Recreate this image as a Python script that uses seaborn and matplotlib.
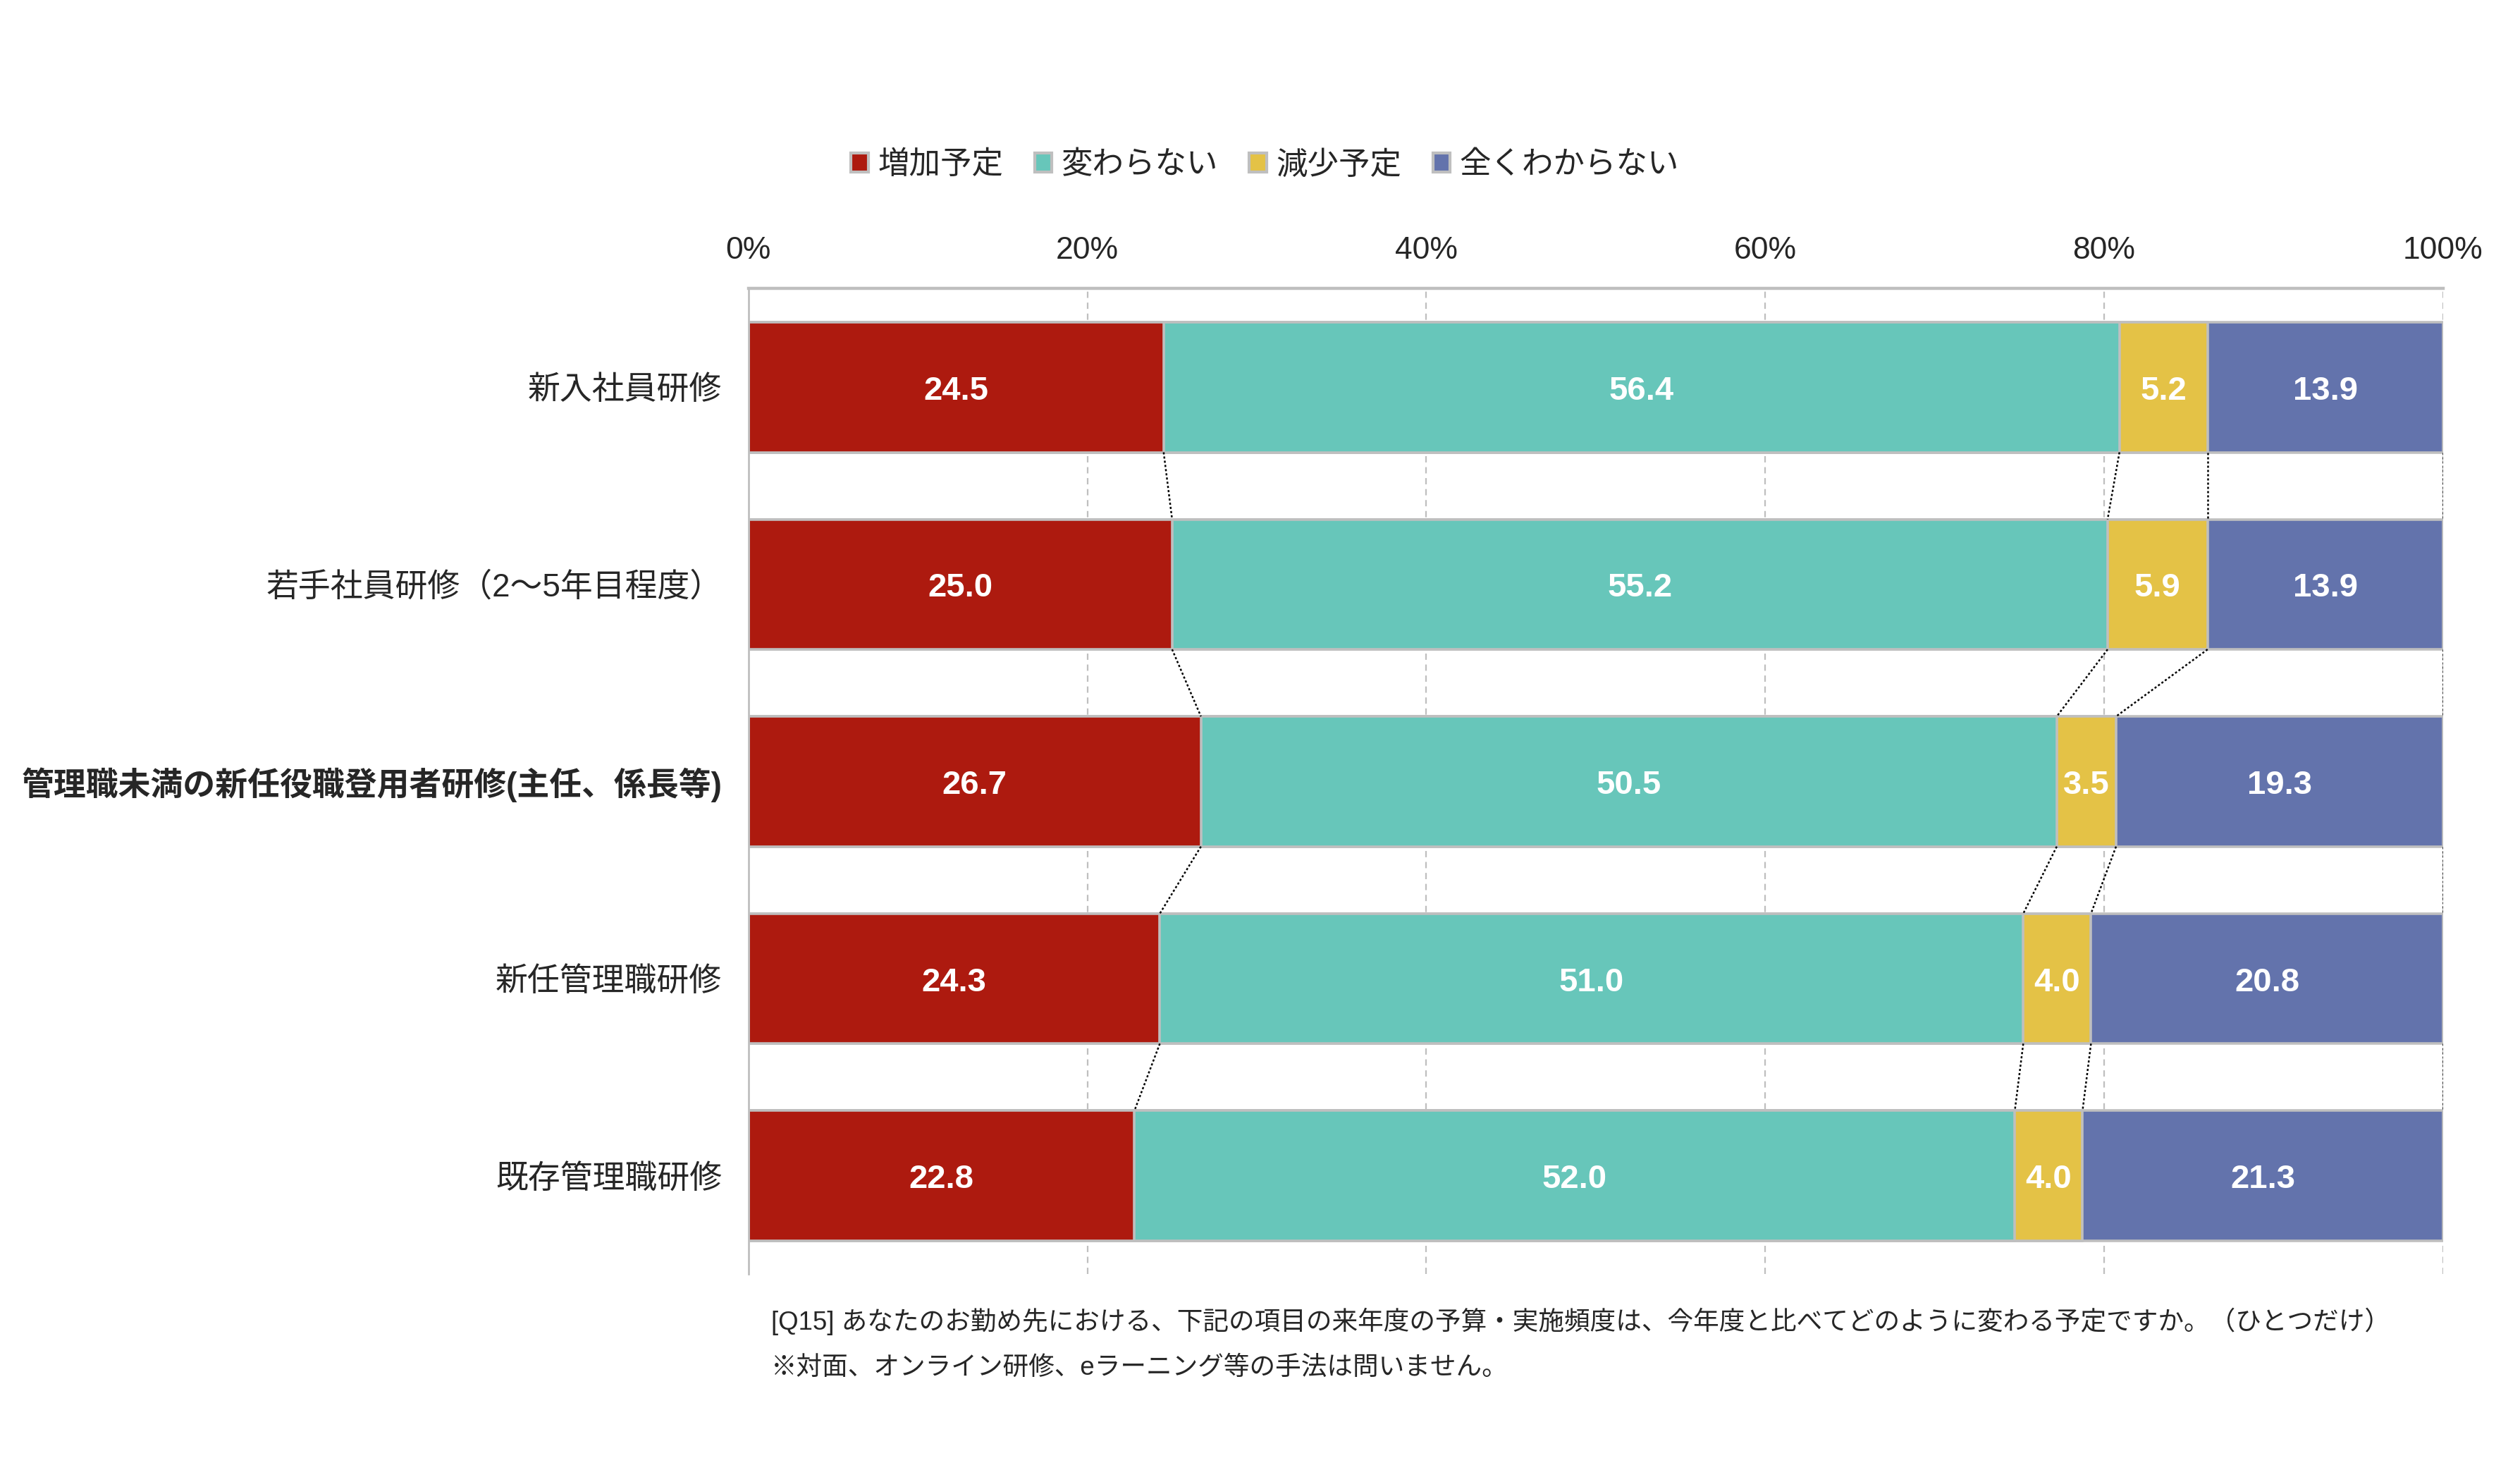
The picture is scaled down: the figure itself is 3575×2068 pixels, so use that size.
import numpy as np
import pandas as pd
import matplotlib.pyplot as plt
from matplotlib.patches import Patch
import seaborn as sns

# data (percent)
categories = [
    "新入社員研修",
    "若手社員研修（2～5年目程度）",
    "管理職未満の新任役職登用者研修(主任、係長等)",
    "新任管理職研修",
    "既存管理職研修",
]
series_names = ["増加予定", "変わらない", "減少予定", "全くわからない"]
increase = [24.5, 25.0, 26.7, 24.3, 22.8]
no_change = [56.4, 55.2, 50.5, 51.0, 52.0]
decrease = [5.2, 5.9, 3.5, 4.0, 4.0]
unknown = [13.9, 13.9, 19.3, 20.8, 21.3]
tick_values = [0, 20, 40, 60, 80, 100]
bold_category = "管理職未満の新任役職登用者研修(主任、係長等)"

colors = ["#AD1A0F", "#67C6BA", "#E4C246", "#6373AC"]
edge = "#BFBFBF"
bar_h = 0.66

footnote_1 = "[Q15] あなたのお勤め先における、下記の項目の来年度の予算・実施頻度は、今年度と比べてどのように変わる予定ですか。（ひとつだけ）"
footnote_2 = "※対面、オンライン研修、eラーニング等の手法は問いません。"

sns.set_style("white")
plt.rcParams["font.family"] = ["Liberation Sans", "Noto Sans CJK JP", "DejaVu Sans"]

vals = np.array([increase, no_change, decrease, unknown]).T
vals = vals / vals.sum(axis=1, keepdims=True) * 100
cum = np.cumsum(vals, axis=1)

df = pd.DataFrame({"category": categories})
for j, name in enumerate(series_names):
    df[name] = cum[:, j]

fig = plt.figure(figsize=(17.875, 10.34), dpi=200)
ax = fig.add_axes([0.297, 0.126, 0.6725, 0.676])

# stacked bars: draw cumulative totals from the back to the front
for j in reversed(range(len(series_names))):
    sns.barplot(data=df, x=series_names[j], y="category", order=categories,
                orient="h", color=colors[j], edgecolor=edge, linewidth=1.3,
                width=bar_h, saturation=1, ax=ax, zorder=2)

ax.set_xlim(0, 100)
ax.set_ylim(len(categories) - 0.5, -0.5)
ax.set_xlabel("")
ax.set_ylabel("")

# value labels
for i in range(len(categories)):
    for j in range(len(series_names)):
        raw = [increase, no_change, decrease, unknown][j][i]
        ax.text(cum[i, j] - vals[i, j] / 2, i + 0.02, f"{raw:.1f}", ha="center", va="center",
                color="white", fontsize=17, fontweight="bold", zorder=4)

# dotted connectors between bars
for i in range(len(categories) - 1):
    for j in range(len(series_names)):
        ax.plot([cum[i, j], cum[i + 1, j]], [i + bar_h / 2, i + 1 - bar_h / 2],
                color="black", lw=0.9, linestyle=(0, (1.2, 1.2)), zorder=3)

# axes styling
ax.xaxis.tick_top()
ax.set_xticks(tick_values)
ax.set_xticklabels([f"{v}%" for v in tick_values])
ax.tick_params(axis="x", length=0, pad=12, labelsize=16)
ax.tick_params(axis="y", length=0, pad=13.5, labelsize=16.5)
ax.set_yticks(np.arange(len(categories) - 1) + 0.5, minor=True)
ax.tick_params(axis="y", which="minor", direction="in", length=4, color=edge, width=1)
for lbl in ax.get_yticklabels():
    if lbl.get_text() == bold_category:
        lbl.set_fontweight("bold")

ax.set_axisbelow(True)
ax.xaxis.grid(True, linestyle=(0, (4, 3)), color=edge, lw=0.8, zorder=0)
for side in ["right", "bottom"]:
    ax.spines[side].set_visible(False)
ax.spines["top"].set_color(edge)
ax.spines["top"].set_linewidth(1.6)
ax.spines["left"].set_color(edge)
ax.spines["left"].set_linewidth(1.0)

handles = [Patch(facecolor=c, edgecolor=edge, linewidth=1.5) for c in colors]
fig.legend(handles, series_names, loc="center", bbox_to_anchor=(0.502, 0.8865),
           ncol=4, frameon=False, fontsize=16, handlelength=0.55, handleheight=0.55,
           handletextpad=0.3, columnspacing=1.0)

fig.text(0.306, 0.0938, footnote_1, fontsize=13.2, va="center", ha="left")
fig.text(0.306, 0.0619, footnote_2, fontsize=13.2, va="center", ha="left")

fig.savefig("out.png", dpi=200, facecolor="white")
